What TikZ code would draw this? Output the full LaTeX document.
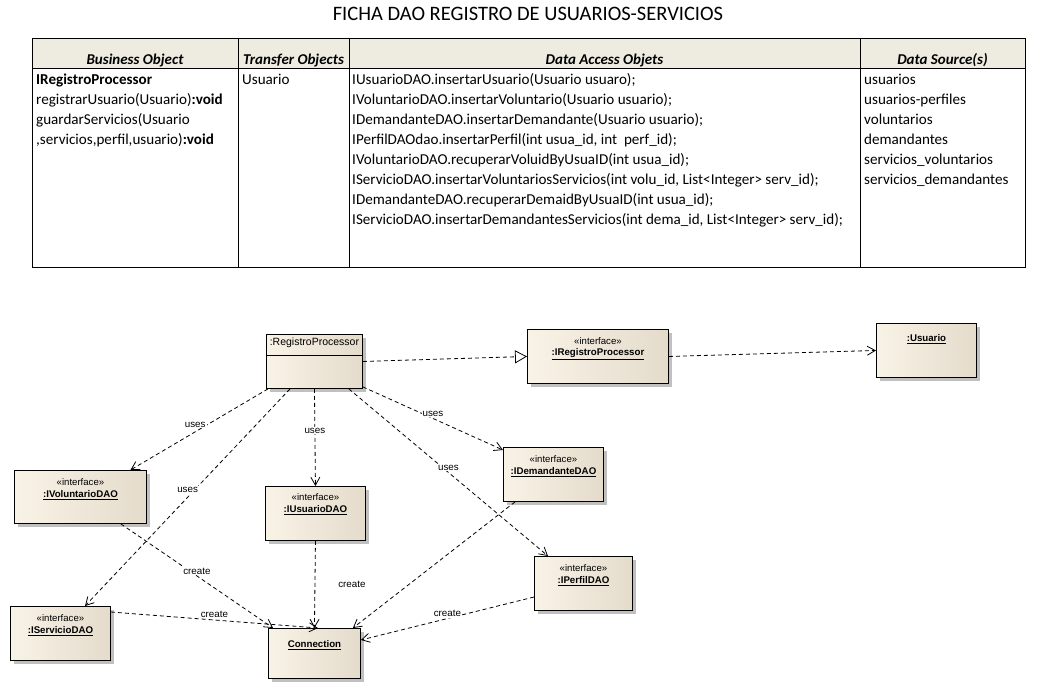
\documentclass[tikz,border=0pt]{standalone}
\usepackage{fontspec}
\setmainfont{Carlito}
\newfontfamily\diagfont{Liberation Sans}
\usetikzlibrary{arrows.meta,shadows}
\definecolor{hdrfill}{RGB}{238,236,225}
\definecolor{boxL}{RGB}{249,243,231}
\definecolor{boxR}{RGB}{228,219,203}
\definecolor{shadowc}{RGB}{192,192,192}
\begin{document}
\begin{tikzpicture}[x=1pt,y=-1pt,
  tline/.style={draw=black, line width=0.8pt},
  tt/.style={font=\fontsize{15.1}{18}\selectfont, anchor=base west, inner sep=0pt},
  th/.style={font=\fontsize{15}{18}\selectfont\bfseries\itshape, anchor=base, inner sep=0pt},
  umlbox/.style={draw=black, line width=0.9pt, left color=boxL, right color=boxR,
     general shadow={fill=shadowc, shadow xshift=4pt, shadow yshift=-4pt},
     anchor=north west, inner sep=0pt},
  stereo/.style={font=\diagfont\fontsize{9.6}{11}\selectfont, inner sep=0pt},
  oname/.style={font=\diagfont\fontsize{9.7}{11}\selectfont\bfseries, inner sep=0pt},
  pname/.style={font=\diagfont\fontsize{10.5}{12}\selectfont, inner sep=0pt},
  lbl/.style={font=\diagfont\fontsize{9.8}{11}\selectfont, inner sep=1pt, fill=white},
  dep/.style={draw=black, line width=0.8pt, dash pattern=on 4pt off 3pt,
     -{Straight Barb[length=8pt,width=9pt,line width=0.8pt]}},
  real/.style={draw=black, line width=0.8pt, dash pattern=on 4pt off 3pt,
     -{Triangle[open,length=12pt,width=13pt,fill=white,line width=0.8pt]}}
]
\useasboundingbox (0,0) rectangle (1050,689);

% ---------- title ----------
\node[font=\fontsize{20.5}{24}\selectfont, anchor=base, inner sep=0pt] (title) at (528,20) {FICHA DAO REGISTRO DE USUARIOS-SERVICIOS};

% ---------- table ----------
\fill[hdrfill] (32,38) rectangle (1025,68);
\draw[tline] (32,38) rectangle (1025,267);
\draw[tline] (32,68) -- (1025,68);
\draw[tline] (238,38) -- (238,267);
\draw[tline] (349,38) -- (349,267);
\draw[tline] (860,38) -- (860,267);

\node[th] (h1) at (135,64) {Business Object};
\node[th] (h2) at (293.5,64) {Transfer Objects};
\node[th] (h3) at (604.5,64) {Data Access Objets};
\node[th] (h4) at (942.5,64) {Data Source(s)};

\node[tt] (b1) at (36,84.5) {\textbf{IRegistroProcessor}};
\node[tt] (b2) at (36,104.5) {registrarUsuario(Usuario)\textbf{:void}};
\node[tt] (b3) at (36,124.5) {guardarServicios(Usuario};
\node[tt] (b4) at (36,144.5) {,servicios,perfil,usuario)\textbf{:void}};

\node[tt] (t1) at (242,84.5) {Usuario};

\node[tt] (d1) at (352,84.5) {IUsuarioDAO.insertarUsuario(Usuario usuaro);};
\node[tt] (d2) at (352,104.5) {IVoluntarioDAO.insertarVoluntario(Usuario usuario);};
\node[tt] (d3) at (352,124.5) {IDemandanteDAO.insertarDemandante(Usuario usuario);};
\node[tt] (d4) at (352,144.5) {IPerfilDAOdao.insertarPerfil(int usua\_id, int~ perf\_id);};
\node[tt] (d5) at (352,164.5) {IVoluntarioDAO.recuperarVoluidByUsuaID(int usua\_id);};
\node[tt] (d6) at (352,184.5) {IServicioDAO.insertarVoluntariosServicios(int volu\_id, List<Integer> serv\_id);};
\node[tt] (d7) at (352,204.5) {IDemandanteDAO.recuperarDemaidByUsuaID(int usua\_id);};
\node[tt] (d8) at (352,224.5) {IServicioDAO.insertarDemandantesServicios(int dema\_id, List<Integer> serv\_id);};

\node[tt] (s1) at (864,84.5) {usuarios};
\node[tt] (s2) at (864,104.5) {usuarios-perfiles};
\node[tt] (s3) at (864,124.5) {voluntarios};
\node[tt] (s4) at (864,144.5) {demandantes};
\node[tt] (s5) at (864,164.5) {servicios\_voluntarios};
\node[tt] (s6) at (864,184.5) {servicios\_demandantes};

% ---------- diagram boxes ----------
\node[umlbox, minimum width=96pt, minimum height=54pt] (rp) at (266,334) {};
\node[umlbox, minimum width=141pt, minimum height=54pt] (ird) at (527,329) {};
\node[umlbox, minimum width=100pt, minimum height=54pt] (usu) at (876,323) {};
\node[umlbox, minimum width=132pt, minimum height=53pt] (ivol) at (14,470) {};
\node[umlbox, minimum width=100pt, minimum height=54pt] (iusu) at (265,486) {};
\node[umlbox, minimum width=100pt, minimum height=54pt] (idem) at (503,447) {};
\node[umlbox, minimum width=98pt, minimum height=54pt] (iper) at (534,556) {};
\node[umlbox, minimum width=100pt, minimum height=54pt] (iser) at (10,606) {};
\node[umlbox, minimum width=92pt, minimum height=50pt] (conn) at (268,628) {};

\draw[black, line width=0.9pt] ([yshift=-21pt]rp.north west) -- ([yshift=-21pt]rp.north east);
\node[pname] (rp-n) at ([yshift=-9pt]rp.north) {:RegistroProcessor};

\node[stereo] (ird-s) at ([yshift=-12pt]ird.north) {«interface»};
\node[oname] (ird-n) at ([yshift=-25pt]ird.north) {\underline{:IRegistroProcessor}};

\node[oname] (usu-n) at ([yshift=-16pt]usu.north) {\underline{:Usuario}};

\node[stereo] (ivol-s) at ([yshift=-12pt]ivol.north) {«interface»};
\node[oname] (ivol-n) at ([yshift=-25pt]ivol.north) {\underline{:IVoluntarioDAO}};

\node[stereo] (iusu-s) at ([yshift=-11pt]iusu.north) {«interface»};
\node[oname] (iusu-n) at ([yshift=-24pt]iusu.north) {\underline{:IUsuarioDAO}};

\node[stereo] (idem-s) at ([yshift=-12pt]idem.north) {«interface»};
\node[oname] (idem-n) at ([yshift=-25pt]idem.north) {\underline{:IDemandanteDAO}};

\node[stereo] (iper-s) at ([yshift=-12pt]iper.north) {«interface»};
\node[oname] (iper-n) at ([yshift=-25pt]iper.north) {\underline{:IPerfilDAO}};

\node[stereo] (iser-s) at ([yshift=-12pt]iser.north) {«interface»};
\node[oname] (iser-n) at ([yshift=-25pt]iser.north) {\underline{:IServicioDAO}};

\node[oname] (conn-n) at ([yshift=-17pt]conn.north) {\underline{Connection}};

% ---------- connectors ----------
\draw[real] (rp.east) -- (ird.west);
\draw[dep] (ird.east) -- (usu.west);

\draw[dep] ([xshift=2pt]rp.south west) -- node[lbl, pos=0.5, yshift=5pt, xshift=-4pt] (l1) {uses} ([xshift=50pt]ivol.north);
\draw[dep] ([xshift=24pt]rp.south west) -- node[lbl, pos=0.475, yshift=2pt, xshift=-5pt] (l2) {uses} ([xshift=75pt]iser.north west);
\draw[dep] (rp.south) -- node[lbl, pos=0.43] (l3) {uses} (iusu.north);
\draw[dep] ([yshift=2pt]rp.south east) -- node[lbl, pos=0.5, yshift=5pt] (l4) {uses} ([yshift=-3pt]idem.north west);
\draw[dep] ([xshift=-14pt]rp.south east) -- node[lbl, pos=0.5, yshift=5pt] (l5) {uses} ([xshift=14pt]iper.north west);

\draw[dep] ([xshift=-26pt]ivol.south east) -- node[lbl, pos=0.5, yshift=5pt] (c1) {create} ([xshift=5pt]conn.north west);
\draw[dep] (iusu.south) -- node[lbl, pos=0.5, xshift=37pt] (c2) {create} (conn.north);
\draw[dep] ([xshift=12pt]idem.south west) -- ([xshift=-8pt]conn.north east);
\draw[dep] ([yshift=-6pt]iser.north east) -- node[lbl, pos=0.5, yshift=6pt] (c4) {create} ([xshift=50pt]conn.north west);
\draw[dep] ([yshift=-41pt]iper.north west) -- node[lbl, pos=0.5, yshift=5pt] (c5) {create} ([yshift=-12pt]conn.north east);

\end{tikzpicture}
\end{document}
